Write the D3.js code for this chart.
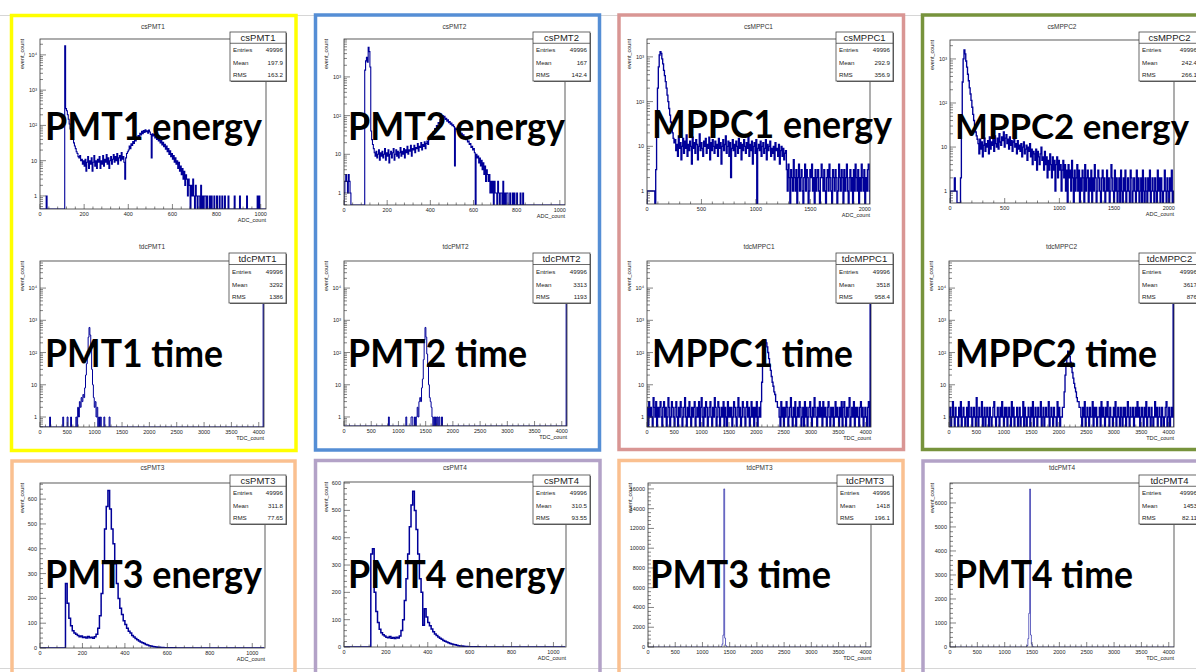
<!DOCTYPE html>
<html>
<head>
<meta charset="utf-8">
<script src="https://cdn.jsdelivr.net/npm/d3@7"></script>
<style>
  body { margin: 0; background: #fff; }
  svg text { font-family: "Liberation Sans", Arial, sans-serif; }
  .big { font-family: Lato, "Open Sans", sans-serif; font-weight: 700; fill: #000; }
</style>
</head>
<body>
<svg id="chart" width="1196" height="672"></svg>
<script>
// ══════════════════════════════════════════
//  12 ROOT histograms pasted on a slide
// ══════════════════════════════════════════

// ── Histogram contents ──
// energy spectra, dense bins starting at 0 (16 bins per row)
const csPMT1Counts = [
  0,0,0,0,0,0,0,1, 0,0,0,0,0,0,0,0,
  0,0,0,0,0,0,0,0, 0,0,0,0,18000,300,260,200,
  150,110,80,62,48,40,32,26, 22,18,16,13,12,14,10,11,
  8,10,7,11,5,9,13,6, 10,8,12,5,9,14,7,10,
  6,11,9,13,6,10,8,14, 7,11,9,15,8,12,6,10,
  13,8,11,15,9,13,10,16, 8,12,14,10,17,11,13,9,
  3,12,16,18,20,26,22,30, 27,35,31,40,36,46,41,52,
  48,60,54,68,58,72,63,75, 66,70,60,74,65,55,12,58,
  50,56,44,50,40,46,36,42, 32,37,28,33,25,29,21,26,
  18,22,15,19,13,16,11,14, 9,12,8,10,6,9,5,7,
  4,6,3,5,2,4,3,1, 3,2,0,2,1,3,1,0,
  2,1,0,1,1,0,2,0, 1,0,1,1,0,1,0,0,
  1,0,1,0,0,1,0,0, 1,0,0,1,0,0,1,0,
  0,1,0,0,0,1,0,0, 0,0,0,0,1,0,0,0,
  0,0,1,0,0,0,0,0, 0,0,1,0,0,0,0,0,
  0,0,0,0,0,0,1,0, 1,0,0,0,0,0,0,0
];
const csPMT2Counts = [
  1,2,3,2,1,3,2,1, 0,0,0,0,0,0,0,0,
  0,0,0,0,0,0,0,0, 1500,2600,3200,2400,5800,4500,1800,40,
  24,18,14,11,9,12,8,10, 13,7,11,9,12,8,10,14,
  7,11,9,13,6,10,12,8, 11,14,7,10,13,9,12,8,
  11,15,9,12,10,14,8,13, 11,16,10,13,12,17,9,14,
  13,17,11,15,14,19,12,16, 15,20,13,18,16,21,14,19,
  22,18,24,28,25,32,30,38, 36,46,42,55,52,66,62,80,
  110,92,100,88,96,80,85,72, 78,66,70,60,64,55,58,52,
  5,48,44,40,42,36,38,33, 35,30,32,27,28,24,26,21,
  22,18,19,15,16,13,14,11, 0,10,8,9,6,8,5,7,
  4,6,3,5,2,4,3,2, 3,1,2,1,2,0,2,1,
  1,0,2,1,0,1,1,0, 2,0,1,0,1,1,0,0,
  1,0,0,1,0,1,0,0, 1,0,0,0,1,0,0,1
];
const csMPPC1Counts = [
  1,1,1,1,1,1,1,1, 1,0,3,30,200,600,1100,1300,
  1200,900,700,500,380,280,200,140, 100,70,50,35,25,20,15,12,
  14,8,11,6,17,9,12,5, 10,15,7,13,9,18,6,11,
  8,13,10,4,16,9,12,7, 14,11,5,10,19,8,12,9,
  6,13,10,15,7,11,9,16, 5,12,8,14,10,7,13,9,
  11,6,15,9,12,4,10,14, 8,11,17,7,10,13,6,12,
  2,9,14,8,11,6,13,10, 7,15,9,12,5,11,8,14,
  10,7,12,9,16,6,11,8, 13,4,10,12,7,14,0,9,
  11,8,13,6,10,12,7,9, 14,5,11,8,10,13,6,9,
  7,10,5,12,8,9,6,11, 4,8,10,6,9,5,7,8,
  3,1,4,2,0,3,2,1, 5,2,1,3,0,2,4,1,
  2,3,1,0,2,4,1,3, 2,0,1,3,2,4,1,2,
  0,3,1,2,3,1,0,2, 4,2,1,3,1,0,2,3,
  1,4,2,1,0,3,2,1, 3,2,0,1,4,2,1,3,
  2,0,3,1,2,4,1,0, 2,3,1,2,0,3,1,4,
  2,1,3,0,2,1,4,2, 1,3,0,2,1,3,4,1
];
const csMPPC2Counts = [
  1,1,1,1,1,2,1,1, 0,0,0,0,2,40,300,1000,
  1600,1300,900,650,450,320,220,160, 115,80,55,40,30,22,18,15,
  12,7,15,9,13,6,11,16, 8,12,10,14,7,17,9,13,
  11,15,8,18,12,10,16,9, 20,13,11,17,14,22,10,16,
  19,12,15,9,17,11,14,8, 13,16,10,12,7,14,9,11,
  8,12,6,10,13,7,9,11, 5,10,8,12,6,9,4,8,
  7,5,9,3,8,6,4,7, 10,5,6,3,8,4,6,2,
  5,3,7,4,2,6,3,5, 1,4,6,2,5,3,4,1,
  3,5,2,4,1,3,0,4, 2,3,1,5,2,0,3,1,
  2,4,1,3,0,2,1,3, 2,0,4,1,2,3,0,2,
  1,3,0,2,1,4,2,0, 1,3,2,1,0,2,3,1,
  2,0,1,3,1,2,0,1, 4,2,1,0,3,1,2,0,
  1,2,0,3,1,0,2,1, 3,0,1,2,1,0,3,2,
  0,1,2,1,0,3,1,2, 0,1,2,0,3,1,0,2,
  1,0,2,1,3,0,1,2, 1,0,2,1,0,3,1,2,
  0,2,1,0,1,3,1,0, 2,1,0,2,1,3,0,1
];
const csPMT3Counts = [
  0,0,0,0,0,0,0,0, 0,0,0,0,0,0,0,260,
  180,120,90,70,60,55,50,45, 48,42,44,40,46,41,43,39,
  45,55,80,130,220,350,480,570, 635,560,480,420,340,260,200,160,
  135,110,95,80,68,60,50,44, 38,33,28,24,21,18,14,12,
  9,8,6,5,4,3,3,2, 2,1,1,1,0,1,0,1
];
const csPMT4Counts = [
  0,0,0,0,0,0,0,0, 0,0,0,0,0,0,0,0,
  340,360,200,130,90,65,52,45, 40,36,34,38,32,35,31,36,
  33,40,60,100,170,250,340,440, 520,570,500,430,340,250,200,80,
  140,110,90,78,66,56,48,42, 37,32,28,24,21,18,16,13,
  11,9,8,6,5,4,4,3, 2,2,1,1,1,0,1,0,1
];
// time spectra: sparse PMT peaks (bin start, content) and dense MPPC bins
const tdcPMT1Bins = [176,416,496,560,656,688,704,720,736,752,768,784,800,816,832,848,864,880,896,912,928,944,960,976,992,1008,1024,1040,1072,1104,1168,1264,4080];
const tdcPMT1Counts = [1,1,1,1,1,2,1,3,2,4,3,5,4,8,20,45,110,300,600,350,120,30,10,4,2,3,1,2,1,1,1,1,37000];
const tdcPMT2Bins = [816,1136,1232,1248,1296,1328,1344,1360,1376,1392,1408,1424,1440,1456,1472,1488,1504,1520,1536,1552,1568,1584,1600,1616,1648,1680,1712,1744,1792,4080];
const tdcPMT2Counts = [1,1,1,1,1,1,2,1,3,4,3,8,15,60,250,600,300,90,40,10,4,3,2,1,1,1,1,1,1,35000];
const tdcMPPC1Counts = [
  2,0,3,1,2,1,0,4, 2,1,3,0,2,1,2,3,
  1,0,2,3,1,2,0,1, 4,2,0,1,3,2,1,0,
  2,3,1,0,2,1,3,2, 0,1,2,4,1,0,2,1,
  3,1,0,2,1,2,3,0, 1,2,1,3,0,2,4,1,
  0,2,1,3,2,0,1,2, 3,1,0,2,1,4,2,0,
  1,3,2,0,1,2,1,3, 0,2,1,0,3,1,2,1,
  2,0,1,3,2,1,0,2, 4,1,2,0,1,3,2,1,
  0,2,3,1,2,0,1,3, 1,2,0,2,1,3,0,1,
  2,1,3,12,40,100,180,240, 200,150,100,65,40,28,18,12,
  9,6,5,3,3,2,2,1, 0,3,1,2,0,2,1,3,
  2,0,1,2,4,1,0,2, 1,3,0,1,2,1,3,2,
  0,1,2,0,3,1,2,0, 1,2,3,1,0,2,1,4,
  2,1,0,2,1,3,1,2, 0,3,1,2,1,0,2,3,
  1,0,2,1,2,0,1,3, 1,2,1,0,2,1,3,0,
  2,3,1,0,2,1,2,4, 0,1,2,1,3,0,2,1,
  2,1,0,2,3,1,2,0, 1,2,1,0,2,3,0,40000
];
const tdcMPPC2Counts = [
  1,2,0,1,3,1,0,2, 1,1,0,2,1,3,0,1,
  2,1,0,1,2,0,3,1, 1,2,0,1,2,1,0,4,
  1,0,2,1,1,3,0,1, 2,0,1,2,1,0,2,1,
  0,1,2,3,1,0,1,2, 1,0,2,1,3,1,0,2,
  1,2,0,1,2,1,0,3, 1,2,0,1,1,2,0,1,
  2,0,1,1,3,0,2,1, 0,1,2,1,0,2,1,3,
  0,1,2,1,0,2,1,1, 3,0,1,2,0,1,2,1,
  1,3,0,1,2,1,0,2, 1,1,0,3,1,2,0,1,
  1,2,2,6,20,45,80,110, 100,75,50,35,24,16,11,8,
  6,4,3,3,2,2,1,0, 2,1,3,0,1,2,1,0,
  2,1,1,3,0,2,1,2, 0,1,1,2,0,3,1,2,
  1,0,2,1,3,1,0,2, 1,1,0,2,1,3,0,1,
  2,1,0,2,1,0,2,1, 2,0,1,3,1,0,2,1,
  1,2,0,1,2,1,3,1, 2,0,1,2,1,0,2,1,
  3,0,1,2,1,0,2,1, 0,1,3,1,2,0,1,2,
  1,0,2,1,0,1,2,3, 0,1,2,0,1,2,1,40000
];
const tdcPMT3Bins = [1344,1360,1376,1392,1408,1424,1440];
const tdcPMT3Counts = [60,300,1200,16000,900,150,30];
const tdcPMT4Bins = [1408,1424,1440,1456,1472,1488,1504];
const tdcPMT4Counts = [60,350,1400,6580,500,120,30];

// ── Tick labels ──
const adcTicks1k = [0, 200, 400, 600, 800, 1000];
const adcTicks2k = [0, 500, 1000, 1500, 2000];
const tdcTicks = [0, 500, 1000, 1500, 2000, 2500, 3000, 3500, 4000];
const pmtYTicks = [0, 100, 200, 300, 400, 500, 600];
const tdcPMT3YTicks = [0, 2000, 4000, 6000, 8000, 10000, 12000, 14000, 16000];
const tdcPMT4YTicks = [0, 1000, 2000, 3000, 4000, 5000, 6000];

// ── Stats boxes and slide labels ──
const histNames = ["csPMT1","csPMT2","csMPPC1","csMPPC2","tdcPMT1","tdcPMT2","tdcMPPC1","tdcMPPC2","csPMT3","csPMT4","tdcPMT3","tdcPMT4"];
const statEntries = ["49996","49996","49996","49996","49996","49996","49996","49996","49996","49996","49996","49996"];
const statMean = ["197.9","167","292.9","242.4","3292","3313","3518","3617","311.8","310.5","1418","1453"];
const statRms = ["163.2","142.4","356.9","266.1","1386","1193","958.4","876","77.65","93.55","196.1","82.11"];
const bigLabels = ["PMT1 energy","PMT2 energy","MPPC1 energy","MPPC2 energy","PMT1 time","PMT2 time","MPPC1 time","MPPC2 time","PMT3 energy","PMT4 energy","PMT3 time","PMT4 time"];

// ── Histogram drawing options (axis ranges as seen on the canvases) ──
const panels = [
  { counts: csPMT1Counts, binW: 4, xMax: 1024, log: true, yExp: [-0.37, 4.45], xTicks: adcTicks1k, xTitle: "ADC_count", lw: 1.1 },
  { counts: csPMT2Counts, binW: 4, xMax: 1024, log: true, yExp: [-0.31, 3.98], xTicks: adcTicks1k, xTitle: "ADC_count", lw: 1.1 },
  { counts: csMPPC1Counts, binW: 8, xMax: 2048, log: true, yExp: [-0.29, 3.40], xTicks: adcTicks2k, xTitle: "ADC_count", lw: 1.35 },
  { counts: csMPPC2Counts, binW: 8, xMax: 2048, log: true, yExp: [-0.27, 3.43], xTicks: adcTicks2k, xTitle: "ADC_count", lw: 1.35 },
  { bins: tdcPMT1Bins, counts: tdcPMT1Counts, binW: 16, xMax: 4096, log: true, yExp: [-0.31, 4.84], xTicks: tdcTicks, xTitle: "TDC_count", lw: 1.0 },
  { bins: tdcPMT2Bins, counts: tdcPMT2Counts, binW: 16, xMax: 4096, log: true, yExp: [-0.28, 4.84], xTicks: tdcTicks, xTitle: "TDC_count", lw: 1.0 },
  { counts: tdcMPPC1Counts, binW: 16, xMax: 4096, log: true, yExp: [-0.31, 4.84], xTicks: tdcTicks, xTitle: "TDC_count", lw: 1.35 },
  { counts: tdcMPPC2Counts, binW: 16, xMax: 4096, log: true, yExp: [-0.31, 4.84], xTicks: tdcTicks, xTitle: "TDC_count", lw: 1.35 },
  { counts: csPMT3Counts, binW: 8, xMax: 1060, log: false, yMax: 665, yTicks: pmtYTicks, xTicks: adcTicks1k, xTitle: "ADC_count", lw: 1.5 },
  { counts: csPMT4Counts, binW: 8, xMax: 1060, log: false, yMax: 604, yTicks: pmtYTicks, xTicks: adcTicks1k, xTitle: "ADC_count", lw: 1.5 },
  { bins: tdcPMT3Bins, counts: tdcPMT3Counts, binW: 16, xMax: 4096, log: false, yMax: 16600, yTicks: tdcPMT3YTicks, xTicks: tdcTicks, xTitle: "TDC_count", lw: 0.6 },
  { bins: tdcPMT4Bins, counts: tdcPMT4Counts, binW: 16, xMax: 4096, log: false, yMax: 6830, yTicks: tdcPMT4YTicks, xTicks: tdcTicks, xTitle: "TDC_count", lw: 0.6 }
];

// ── Layout on the slide: plot frame [x0,x1,y0,y1], stats box [x,y,w,h], label [x,baseline,width,size] ──
const layout = [
  { frame: [40, 266, 39, 209],   stats: [230, 32, 56, 49],   label: [45, 140, 217, 38],  titleY: 29 },
  { frame: [344, 565, 39, 205],  stats: [533, 32, 57, 49],   label: [348, 140, 217, 38], titleY: 29 },
  { frame: [647, 870, 39, 204],  stats: [836, 32, 57, 49],   label: [652, 138, 240, 38], titleY: 29 },
  { frame: [950, 1174, 40, 203], stats: [1139, 32, 61, 49],  label: [955, 139, 234, 35], titleY: 29 },
  { frame: [40, 264, 261, 427],  stats: [229, 253, 57, 50],  label: [45, 367, 178, 38],  titleY: 249 },
  { frame: [344, 567, 261, 426], stats: [533, 253, 57, 50],  label: [348, 367, 179, 38], titleY: 249 },
  { frame: [647, 871, 261, 427], stats: [836, 253, 57, 50],  label: [652, 367, 201, 38], titleY: 249 },
  { frame: [949, 1174, 261, 427], stats: [1139, 253, 61, 50], label: [955, 367, 202, 38], titleY: 249 },
  { frame: [40, 265, 483, 648],  stats: [230, 475, 56, 49],  label: [45, 588, 217, 38],  titleY: 470 },
  { frame: [344, 566, 482, 647], stats: [533, 475, 57, 49],  label: [348, 588, 217, 38], titleY: 470 },
  { frame: [648, 871, 483, 647], stats: [837, 475, 56, 49],  label: [650, 588, 181, 38], titleY: 470 },
  { frame: [950, 1174, 483, 647], stats: [1139, 475, 61, 49], label: [955, 588, 178, 38], titleY: 470 }
];

// coloured slide boxes round the screenshots
const borders = [
  { x: 11.5, y: 15.5, w: 284.5, h: 435, color: "#ffff00" },
  { x: 315.5, y: 15, w: 284, h: 435, color: "#558ed5" },
  { x: 619, y: 15, w: 284.5, h: 434.5, color: "#d99694" },
  { x: 922.5, y: 15, w: 290, h: 434.5, color: "#77933c" },
  { x: 12, y: 461, w: 283, h: 230, color: "#fac090" },
  { x: 315.5, y: 460.5, w: 284.5, h: 230, color: "#b3a2c7" },
  { x: 619, y: 460.5, w: 284, h: 230, color: "#fac090" },
  { x: 923, y: 461, w: 290, h: 230, color: "#b3a2c7" }
];

const svg = d3.select("#chart");
const histColor = "#000099";
const sup = { 2: "²", 3: "³", 4: "⁴" };

// faint edges of the pasted screenshots
svg.append("line").attr("x1", 0).attr("x2", 1196).attr("y1", 15.5).attr("y2", 15.5)
  .attr("stroke", "#d6d6d6").attr("stroke-width", 1);
svg.append("line").attr("x1", 0).attr("x2", 1196).attr("y1", 668.5).attr("y2", 668.5)
  .attr("stroke", "#d6d6d6").attr("stroke-width", 1);

panels.forEach((p, i) => drawPanel(p, layout[i], i));

// big slide labels
layout.forEach((l, i) => {
  svg.append("text")
    .attr("class", "big")
    .attr("x", l.label[0])
    .attr("y", l.label[1])
    .attr("font-size", l.label[3])
    .attr("textLength", l.label[2])
    .attr("lengthAdjust", "spacingAndGlyphs")
    .text(bigLabels[i]);
});

// coloured boxes on top
svg.selectAll(".border")
  .data(borders)
  .join("rect")
  .attr("class", "border")
  .attr("x", d => d.x).attr("y", d => d.y)
  .attr("width", d => d.w).attr("height", d => d.h)
  .attr("fill", "none")
  .attr("stroke", d => d.color)
  .attr("stroke-width", 3.5);

function drawPanel(p, l, i) {
  const [fx0, fx1, fy0, fy1] = l.frame;
  const g = svg.append("g");

  const x = d3.scaleLinear().domain([0, p.xMax]).range([fx0, fx1]);
  const y = p.log
    ? d3.scaleLog().domain([Math.pow(10, p.yExp[0]), Math.pow(10, p.yExp[1])]).range([fy1, fy0])
    : d3.scaleLinear().domain([0, p.yMax]).range([fy1, fy0]);
  const yPos = c => (c <= 0 ? fy1 : Math.max(fy0, Math.min(fy1, y(c))));

  // ── bin contents ──
  const nb = Math.floor(p.xMax / p.binW);
  const content = new Array(nb).fill(0);
  if (p.bins) p.bins.forEach((b, k) => { content[Math.round(b / p.binW)] = p.counts[k]; });
  else p.counts.forEach((c, k) => { if (k < nb) content[k] = c; });

  const pts = [[x(0), fy1]];
  content.forEach((c, k) => {
    pts.push([x(k * p.binW), yPos(c)], [x((k + 1) * p.binW), yPos(c)]);
  });
  pts.push([x(nb * p.binW), fy1]);

  g.append("clipPath").attr("id", "clip" + i)
    .append("rect")
    .attr("x", fx0).attr("y", fy0)
    .attr("width", fx1 - fx0).attr("height", fy1 - fy0);

  g.append("path")
    .attr("d", d3.line()(pts))
    .attr("clip-path", `url(#clip${i})`)
    .attr("fill", "none")
    .attr("stroke", histColor)
    .attr("stroke-width", p.lw || 0.9);

  // ── frame ──
  g.append("rect")
    .attr("x", fx0).attr("y", fy0)
    .attr("width", fx1 - fx0).attr("height", fy1 - fy0)
    .attr("fill", "none").attr("stroke", "#333").attr("stroke-width", 0.8);

  // ── x axis ──
  const xStep = (p.xTicks[1] - p.xTicks[0]) / 5;
  for (let v = 0; v <= p.xMax; v += xStep) {
    const major = p.xTicks.includes(v);
    g.append("line")
      .attr("x1", x(v)).attr("x2", x(v))
      .attr("y1", fy1).attr("y2", fy1 - (major ? 5 : 2.5))
      .attr("stroke", "#333").attr("stroke-width", 0.6);
  }
  g.selectAll(".xl")
    .data(p.xTicks)
    .join("text")
    .attr("x", d => x(d))
    .attr("y", fy1 + 7)
    .attr("text-anchor", "middle")
    .attr("font-size", 5.5)
    .attr("fill", "#222")
    .text(d => d);
  g.append("text")
    .attr("x", fx1).attr("y", fy1 + 13)
    .attr("text-anchor", "end")
    .attr("font-size", 5.5).attr("fill", "#222")
    .text(p.xTitle);

  // ── y axis ──
  if (p.log) {
    for (let e = Math.floor(p.yExp[0]); e <= Math.ceil(p.yExp[1]); e++) {
      for (let m = 1; m <= 9; m++) {
        const v = m * Math.pow(10, e);
        const lv = Math.log10(v);
        if (lv < p.yExp[0] || lv > p.yExp[1]) continue;
        g.append("line")
          .attr("x1", fx0).attr("x2", fx0 + (m === 1 ? 6 : 3))
          .attr("y1", y(v)).attr("y2", y(v))
          .attr("stroke", "#333").attr("stroke-width", 0.6);
        if (m === 1 && e >= 0) {
          const t = g.append("text")
            .attr("x", fx0 - 3).attr("y", y(v) + 2)
            .attr("text-anchor", "end")
            .attr("font-size", 5.5).attr("fill", "#222");
          if (e === 0) t.text("1");
          else if (e === 1) t.text("10");
          else t.text("10" + sup[e]);
        }
      }
    }
  } else {
    const yStep = (p.yTicks[1] - p.yTicks[0]) / 5;
    for (let v = 0; v <= p.yMax; v += yStep) {
      const major = p.yTicks.includes(v);
      g.append("line")
        .attr("x1", fx0).attr("x2", fx0 + (major ? 6 : 3))
        .attr("y1", y(v)).attr("y2", y(v))
        .attr("stroke", "#333").attr("stroke-width", 0.6);
    }
    g.selectAll(".yl")
      .data(p.yTicks)
      .join("text")
      .attr("x", fx0 - 3)
      .attr("y", d => y(d) + 2)
      .attr("text-anchor", "end")
      .attr("font-size", 5.5)
      .attr("fill", "#222")
      .text(d => d);
  }
  g.append("text")
    .attr("transform", `translate(${fx0 - 16},${fy0}) rotate(-90)`)
    .attr("text-anchor", "end")
    .attr("font-size", 5.5).attr("fill", "#222")
    .text("event_count");

  // ── pad title ──
  g.append("text")
    .attr("x", (fx0 + fx1) / 2).attr("y", l.titleY)
    .attr("text-anchor", "middle")
    .attr("font-size", 6.5).attr("fill", "#333")
    .text(histNames[i]);

  // ── stats box ──
  const [sx, sy, sw, sh] = l.stats;
  const hdr = sh * 0.23;
  const rowH = (sh - hdr) / 3;
  g.append("rect")
    .attr("x", sx + 1).attr("y", sy + 1).attr("width", sw).attr("height", sh)
    .attr("fill", "#666");
  g.append("rect")
    .attr("x", sx).attr("y", sy).attr("width", sw).attr("height", sh)
    .attr("fill", "#fff").attr("stroke", "#444").attr("stroke-width", 0.8);
  g.append("line")
    .attr("x1", sx).attr("x2", sx + sw)
    .attr("y1", sy + hdr).attr("y2", sy + hdr)
    .attr("stroke", "#444").attr("stroke-width", 0.8);
  g.append("text")
    .attr("x", sx + sw / 2).attr("y", sy + hdr - 2.3)
    .attr("text-anchor", "middle")
    .attr("font-size", 9.5).attr("fill", "#222")
    .text(histNames[i]);
  const rows = [["Entries", statEntries[i]], ["Mean", statMean[i]], ["RMS", statRms[i]]];
  rows.forEach((r, k) => {
    const by = sy + hdr + rowH * k + rowH * 0.72;
    g.append("text").attr("x", sx + 3).attr("y", by)
      .attr("font-size", 6.2).attr("fill", "#222").text(r[0]);
    g.append("text").attr("x", sx + sw - 3).attr("y", by)
      .attr("text-anchor", "end")
      .attr("font-size", 6.2).attr("fill", "#222").text(r[1]);
  });
}
</script>
</body>
</html>
